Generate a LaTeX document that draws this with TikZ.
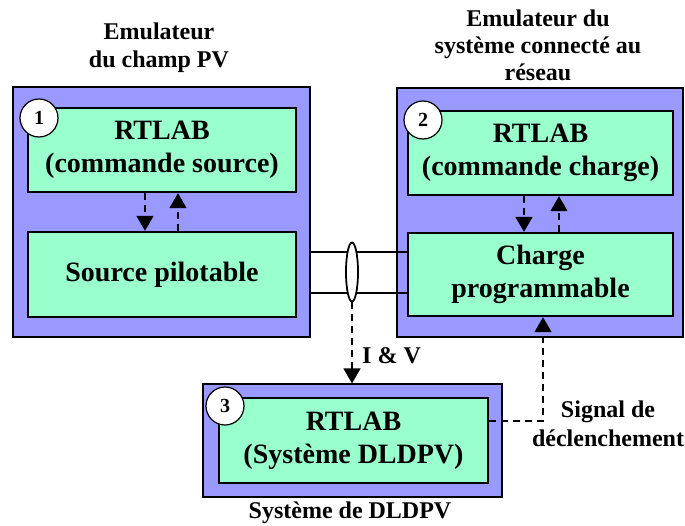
\documentclass[tikz,border=0pt]{standalone}
\usepackage{fontspec}
\setmainfont{Liberation Serif}
\usetikzlibrary{arrows.meta,shapes.geometric}
\definecolor{outerc}{RGB}{153,153,255}
\definecolor{innerc}{RGB}{153,255,204}
\begin{document}
\begin{tikzpicture}[x=1pt,y=-1pt,
  outerbox/.style={draw=black,line width=1.2pt,fill=outerc,inner sep=0pt,rectangle},
  innerbox/.style={draw=black,line width=2.4pt,fill=innerc,inner sep=0pt,rectangle,align=center,font=\fontsize{28}{33}\selectfont\bfseries},
  numc/.style={circle,draw=black,line width=1.2pt,fill=white,minimum size=38pt,inner sep=0pt,font=\fontsize{20}{20}\selectfont\bfseries},
  lbl/.style={align=center,inner sep=0pt},
  dasharrow/.style={line width=1.6pt,dash pattern=on 7pt off 5pt,-{Triangle[width=17pt,length=15pt]}},
  wire/.style={line width=1.6pt}]
\useasboundingbox (0,0) rectangle (685,525);
% outer boxes
\node[outerbox,minimum width=297pt,minimum height=250pt] (o1) at (161.5,212) {};
\node[outerbox,minimum width=286pt,minimum height=249pt] (o2) at (540,212.5) {};
\node[outerbox,minimum width=299pt,minimum height=113pt] (o3) at (352.5,440.5) {};
% inner boxes
\node[innerbox,minimum width=268pt,minimum height=84pt] (i1a) at (162,150) {RTLAB\\(commande source)};
\node[innerbox,minimum width=268pt,minimum height=85pt] (i1b) at (162,274.5) {Source pilotable};
\node[innerbox,minimum width=265pt,minimum height=84pt] (i2a) at (540.5,153) {RTLAB\\(commande charge)};
\node[innerbox,minimum width=265pt,minimum height=83pt] (i2b) at (540.5,274.5) {Charge\\programmable};
\node[innerbox,minimum width=269pt,minimum height=85pt] (i3) at (353.5,440.5) {RTLAB\\(Système DLDPV)};
% number circles
\node[numc] (c1) at (39,118) {1};
\node[numc] (c2) at (423,120) {2};
\node[numc] (c3) at (225,406) {3};
% internal arrows
\draw[dasharrow] ([xshift=-17pt]i1a.south) -- ([xshift=-17pt]i1b.north);
\draw[dasharrow] ([xshift=16pt]i1b.north) -- ([xshift=16pt]i1a.south);
\draw[dasharrow] ([xshift=-16.5pt]i2a.south) -- ([xshift=-16.5pt]i2b.north);
\draw[dasharrow] ([xshift=18.5pt]i2b.north) -- ([xshift=18.5pt]i2a.south);
% wires
\draw[wire] (o1.east |- 0,252) -- (i2b.west |- 0,252);
\draw[wire] (o1.east |- 0,293) -- (i2b.west |- 0,293);
\node[ellipse,draw=black,line width=1.8pt,fill=white,minimum width=12pt,minimum height=59pt,inner sep=0pt] (ell) at (352,272) {};
\draw[dasharrow] (ell.south) -- (ell.south |- o3.north);
\node[lbl,anchor=base west,font=\fontsize{24}{27}\selectfont\bfseries] (iv) at (362,363) {I \& V};
% trigger signal
\draw[dasharrow] ([yshift=19.5pt]i3.east) -| ([xshift=2.5pt]i2b.south);
% labels
\node[lbl,font=\fontsize{24}{28}\selectfont\bfseries] (l1) at (159,48) {Emulateur\\du champ PV};
\node[lbl,font=\fontsize{24}{27}\selectfont\bfseries] (l2) at (538,45) {Emulateur du\\système connecté au\\réseau};
\node[lbl,font=\fontsize{24}{29}\selectfont\bfseries] (l3) at (608,424) {Signal de\\déclenchement};
\node[lbl,anchor=base,font=\fontsize{24}{27}\selectfont\bfseries] (l4) at (350,518) {Système de DLDPV};
\end{tikzpicture}
\end{document}
